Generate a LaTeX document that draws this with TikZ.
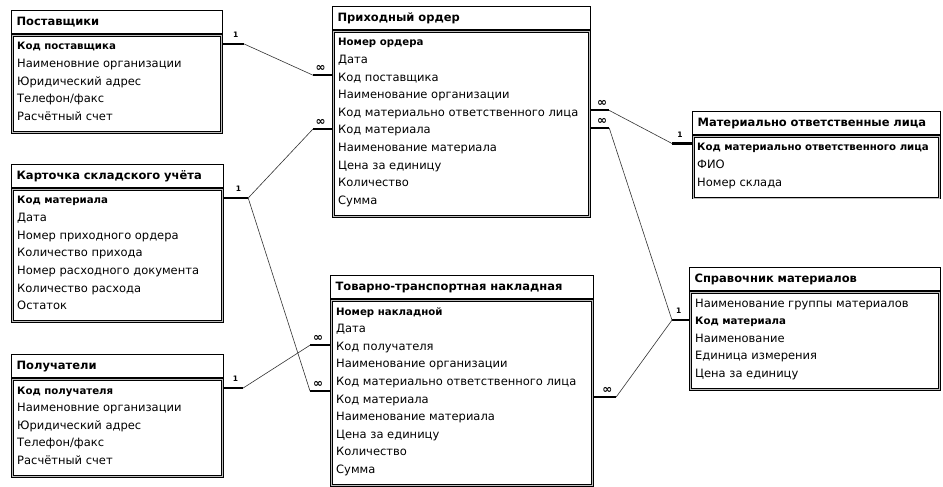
\documentclass[tikz,border=0pt]{standalone}
\usepackage{fontspec}
\setmainfont{DejaVu Sans}
\usetikzlibrary{positioning}

\tikzset{
  tbl/.style={draw, line width=1.2pt, anchor=north west, minimum height=23pt, inner xsep=5pt, inner ysep=3pt, align=left, font=\bfseries\fontsize{11.5}{13}\selectfont},
  tblbody/.style={draw, line width=1pt, double=gray!50, double distance=0.8pt, fill=white, anchor=north west, inner sep=0pt},
  fld/.style={anchor=west, inner sep=0pt, text height=8.5pt, text depth=2.5pt, font=\fontsize{11.5}{13}\selectfont},
  key/.style={fld, font=\bfseries\fontsize{10.2}{13}\selectfont},
  stub/.style={line width=2.2pt},
  rel/.style={line width=0.6pt, black!80},
  one/.style={pos=0.6, yshift=9pt, inner sep=0pt, font=\bfseries\fontsize{7.5}{8}\selectfont},
  many/.style={pos=0.6, yshift=7pt, inner sep=0pt, font=\bfseries\fontsize{12}{12}\selectfont}
}

\begin{document}
\begin{tikzpicture}[x=1pt,y=-1pt]
  \fill[white] (0,0) rectangle (943,486);

  % Поставщики
  \node[tbl, text width=201pt] (post) at (11,10) {Поставщики};
  \node[tblbody, minimum width=209.4pt, minimum height=96.8pt] (post-b) at ([shift={(0.8,0.8)}]post.south west) {};
  \node[key] (post-1) at (17,47) {Код поставщика};
  \foreach \t [count=\i from 2] in {Наименовние организации, Юридический адрес, Телефон/факс, Расчётный счет}
    \node[fld] (post-\i) at (17,{29.4+17.6*\i}) {\t};

  % Приходный ордер
  \node[tbl, text width=248pt] (order) at (332,6) {Приходный ордер};
  \node[tblbody, minimum width=256.4pt, minimum height=184.8pt] (order-b) at ([shift={(0.8,0.8)}]order.south west) {};
  \node[key] (order-1) at (338,43) {Номер ордера};
  \foreach \t [count=\i from 2] in {Дата, Код поставщика, Наименование организации, Код материально ответственного лица, Код материала, Наименование материала, Цена за единицу, Количество, Сумма}
    \node[fld] (order-\i) at (338,{25.4+17.6*\i}) {\t};

  % Материально ответственные лица
  \node[tbl, text width=238pt] (mol) at (692,111) {Материально ответственные лица};
  \node[tblbody, minimum width=246.4pt, minimum height=61.6pt] (mol-b) at ([shift={(0.8,0.8)}]mol.south west) {};
  \node[key] (mol-1) at (697,148) {Код материально ответственного лица};
  \foreach \t [count=\i from 2] in {ФИО, Номер склада}
    \node[fld] (mol-\i) at (697,{130.4+17.6*\i}) {\t};

  % Карточка складского учёта
  \node[tbl, text width=202pt] (card) at (11,164) {Карточка складского учёта};
  \node[tblbody, minimum width=210.4pt, minimum height=132pt] (card-b) at ([shift={(0.8,0.8)}]card.south west) {};
  \node[key] (card-1) at (17,201) {Код материала};
  \foreach \t [count=\i from 2] in {Дата, Номер приходного ордера, Количество прихода, Номер расходного документа, Количество расхода, Остаток}
    \node[fld] (card-\i) at (17,{183.4+17.6*\i}) {\t};

  % Товарно-транспортная накладная
  \node[tbl, text width=253pt] (ttn) at (330,275) {Товарно-транспортная накладная};
  \node[tblbody, minimum width=261.4pt, minimum height=184.8pt] (ttn-b) at ([shift={(0.8,0.8)}]ttn.south west) {};
  \node[key] (ttn-1) at (336,312) {Номер накладной};
  \foreach \t [count=\i from 2] in {Дата, Код получателя, Наименование организации, Код материально ответственного лица, Код материала, Наименование материала, Цена за единицу, Количество, Сумма}
    \node[fld] (ttn-\i) at (336,{294.4+17.6*\i}) {\t};

  % Получатели
  \node[tbl, text width=202pt] (rec) at (11,354) {Получатели};
  \node[tblbody, minimum width=210.4pt, minimum height=96.8pt] (rec-b) at ([shift={(0.8,0.8)}]rec.south west) {};
  \node[key] (rec-1) at (17,391) {Код получателя};
  \foreach \t [count=\i from 2] in {Наименовние организации, Юридический адрес, Телефон/факс, Расчётный счет}
    \node[fld] (rec-\i) at (17,{373.4+17.6*\i}) {\t};

  % Справочник материалов
  \node[tbl, text width=241pt] (sprav) at (689,267) {Справочник материалов};
  \node[tblbody, minimum width=249.4pt, minimum height=96.8pt] (sprav-b) at ([shift={(0.8,0.8)}]sprav.south west) {};
  \node[fld] (sprav-1) at (695,304) {Наименование группы материалов};
  \node[key] (sprav-2) at (695,321.6) {Код материала};
  \foreach \t [count=\i from 3] in {Наименование, Единица измерения, Цена за единицу}
    \node[fld] (sprav-\i) at (695,{286.4+17.6*\i}) {\t};

  % stubs
  \draw[stub] ([yshift=3pt]post-1 -| post.east) -- node[one] {1} ++(21,0) coordinate (post-r);
  \draw[stub] ([yshift=3pt]card-1 -| card.east) -- node[one] {1} ++(24,0) coordinate (card-r);
  \draw[stub] ([yshift=3pt]rec-1 -| rec.east) -- node[one] {1} ++(19,0) coordinate (rec-r);
  \draw[stub] ([yshift=3pt]order-3 -| order.west) -- node[many] {∞} ++(-19,0) coordinate (order-l1);
  \draw[stub] ([yshift=2pt]order-6 -| order.west) -- node[many] {∞} ++(-19,0) coordinate (order-l2);
  \draw[stub] ([yshift=3pt]order-5 -| order.east) -- node[many] {∞} ++(18,0) coordinate (order-r1);
  \draw[stub] ([yshift=3pt]order-6 -| order.east) -- node[many] {∞} ++(18,0) coordinate (order-r2);
  \draw[stub] ([yshift=2pt]ttn-3 -| ttn.west) -- node[many] {∞} ++(-20,0) coordinate (ttn-l1);
  \draw[stub] ([yshift=9pt]ttn-6 -| ttn.west) -- node[many] {∞} ++(-20,0) coordinate (ttn-l2);
  \draw[stub] ([yshift=3pt]ttn-6 -| ttn.east) -- node[many] {∞} ++(22,0) coordinate (ttn-r);
  \draw[stub] ([yshift=4.5pt]mol-1 -| mol.west) -- node[one] {1} ++(-20,0) coordinate (mol-l);
  \draw[stub] ([yshift=1.5pt]sprav-2 -| sprav.west) -- node[one] {1} ++(-17,0) coordinate (sprav-l);

  % relations
  \draw[rel] (post-r) -- (order-l1);
  \draw[rel] (order-l2) -- (card-r) -- (ttn-l2);
  \draw[rel] (rec-r) -- (ttn-l1);
  \draw[rel] (order-r1) -- (mol-l);
  \draw[rel] (order-r2) -- (sprav-l) -- (ttn-r);
\end{tikzpicture}
\end{document}
